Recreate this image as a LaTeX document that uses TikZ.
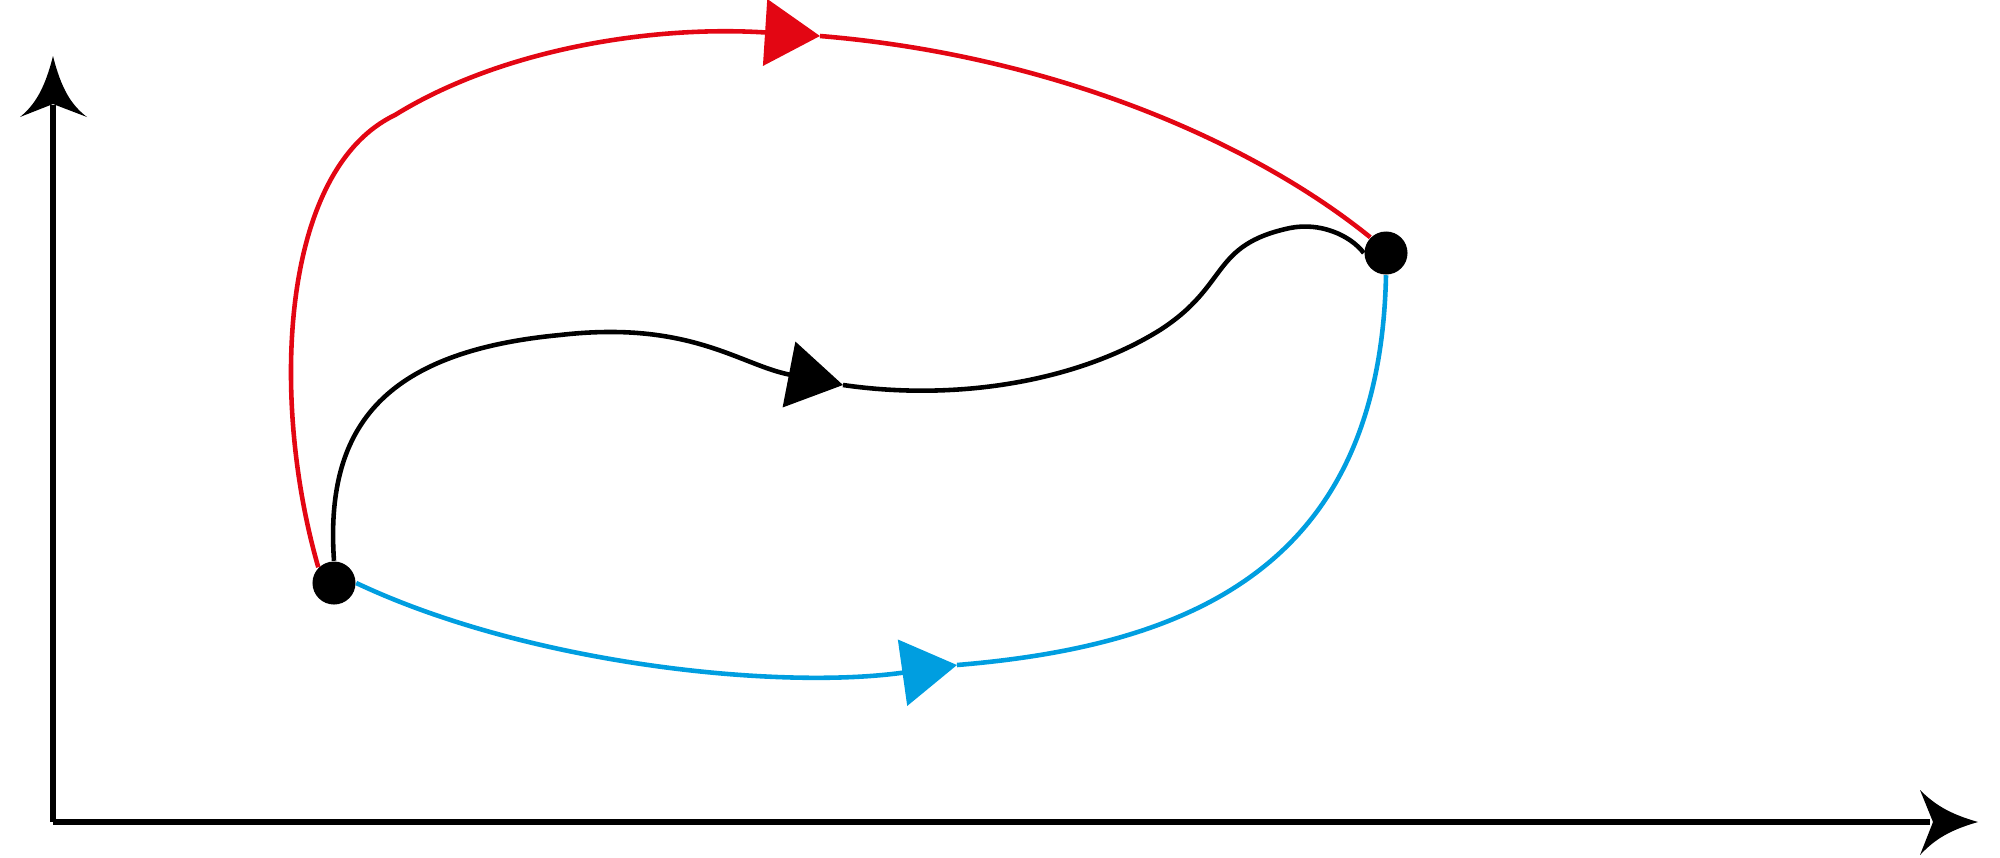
\documentclass[tikz,border=0pt]{standalone}
\usetikzlibrary{arrows.meta}
\definecolor{myred}{RGB}{227,6,19}
\definecolor{myblue}{RGB}{0,158,224}
\begin{document}
\begin{tikzpicture}[x=0.01cm,y=-0.01cm,
  ln/.style={line width=1.3pt},
  tri/.style={-{Triangle[length=0.55cm,width=0.66cm]}},
  ax/.style={line width=1.5pt},
  dot/.style={circle,fill=black,minimum size=0.43cm,inner sep=0pt}]
\useasboundingbox (0,0) rectangle (2000,857);
\coordinate (o) at (53,822);
\coordinate (yt) at (53,56);
\coordinate (xt) at (1978,822);
\draw[ax] (o) -- (53,105);
\draw[ax] (o) -- (1930,822);
\fill (yt) .. controls (45,88) and (35,105) .. (20,117) -- (53,104) -- (87,117) .. controls (71,105) and (61,88) .. (yt) -- cycle;
\fill (xt) .. controls (1950,814) and (1935,805) .. (1920,790) -- (1933,822) -- (1920,855) .. controls (1935,839) and (1950,830) .. (xt) -- cycle;
\coordinate (r1) at (820,36);
\coordinate (b1) at (957,665);
\coordinate (k1) at (843,385);
\node[dot] (A) at (334,583) {};
\node[dot] (B) at (1386,253) {};
\draw[ln,myred,tri] (A.north west) .. controls (270,400) and (280,170) .. (395,115) .. controls (500,50) and (650,25) .. (r1);
\draw[ln,myred] (r1) .. controls (1050,55) and (1250,140) .. (B.north west);
\draw[ln,myblue,tri] (A.east) .. controls (530,665) and (780,690) .. (b1);
\draw[ln,myblue] (b1) .. controls (1200,645) and (1380,560) .. (B.south);
\draw[ln,black,tri] (A.north) .. controls (325,430) and (380,352) .. (560,335) .. controls (690,320) and (740,365) .. (k1);
\draw[ln,black] (k1) .. controls (960,402) and (1080,380) .. (1160,330) .. controls (1230,285) and (1210,245) .. (1290,228) .. controls (1320,222) and (1350,235) .. (B.west);
\end{tikzpicture}
\end{document}
